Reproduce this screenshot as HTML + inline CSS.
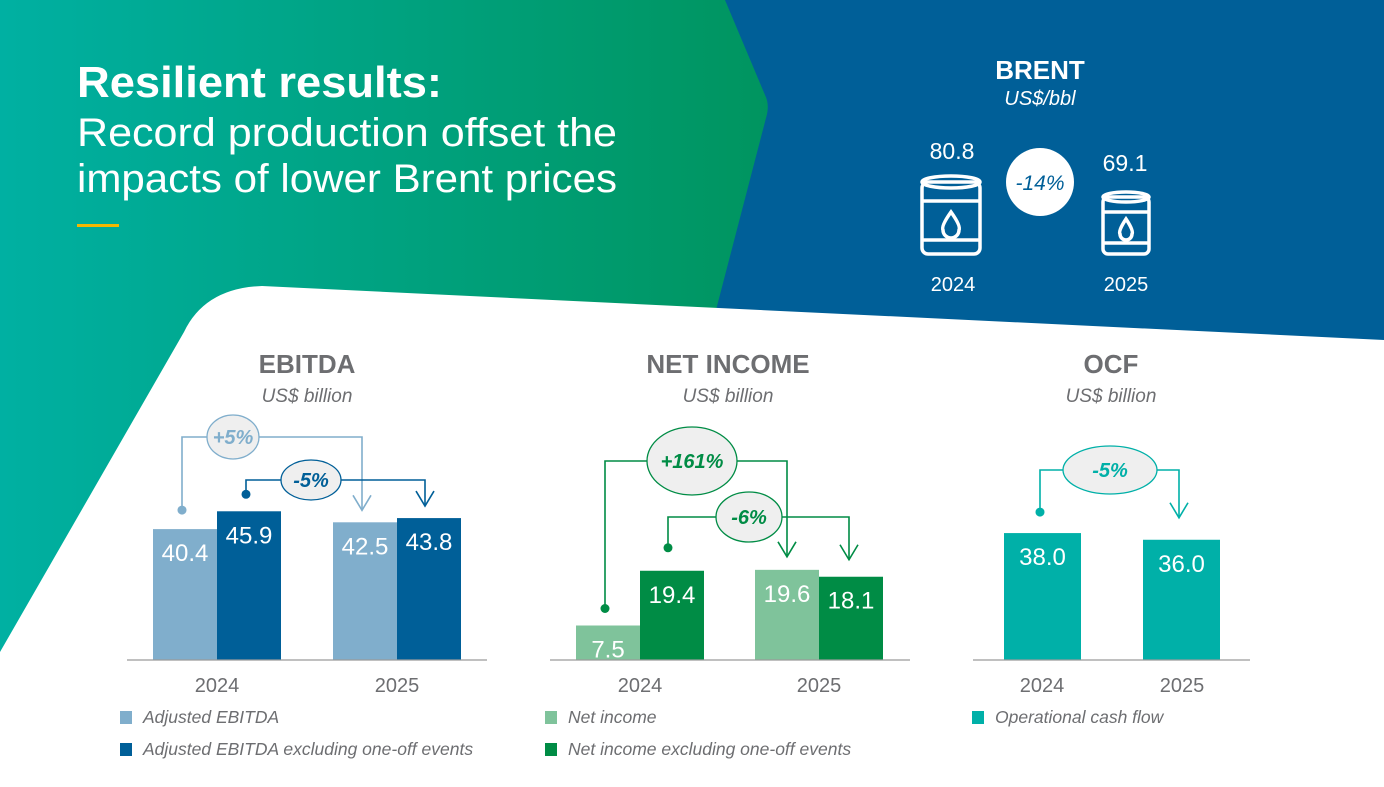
<!DOCTYPE html>
<html><head><meta charset="utf-8"><style>
html,body{margin:0;padding:0;width:1384px;height:787px;overflow:hidden;background:#fff}
svg{display:block;font-family:"Liberation Sans",sans-serif}
</style></head><body>
<svg id="c" width="1384" height="787" viewBox="0 0 1384 787">
<defs>
<linearGradient id="g" x1="0" x2="1" y1="0" y2="0">
<stop offset="0" stop-color="#00b0a2"/><stop offset="1" stop-color="#00945e"/>
</linearGradient>
</defs>
<rect x="0" y="0" width="780" height="787" fill="url(#g)"/>
<path d="M725,0 L1384,0 L1384,345 L716,310 L766,118 Q770,105 765,95 Z" fill="#005f98"/>
<path d="M262,286 L1384,340 L1384,787 L0,787 L0,652 L184,332 Q205,288 262,286 Z" fill="#fff"/>
<text x="77" y="97" font-size="44" font-weight="bold" fill="#fff" textLength="365" lengthAdjust="spacingAndGlyphs">Resilient results:</text>
<text x="77" y="146" font-size="40" fill="#fff" textLength="540" lengthAdjust="spacingAndGlyphs">Record production offset the</text>
<text x="77" y="192" font-size="40" fill="#fff" textLength="540" lengthAdjust="spacingAndGlyphs">impacts of lower Brent prices</text>
<rect x="77" y="224" width="42" height="3" fill="#f5b800"/>
<g>
<text x="1040" y="79" font-size="26" font-weight="bold" fill="#fff" text-anchor="middle">BRENT</text>
<text x="1040" y="105" font-size="20" font-style="italic" fill="#fff" text-anchor="middle">US$/bbl</text>
<text x="952" y="159" font-size="23" fill="#fff" text-anchor="middle">80.8</text>
<text x="1125" y="171" font-size="23" fill="#fff" text-anchor="middle">69.1</text>
<circle cx="1040" cy="182" r="34" fill="#fff"/>
<text x="1040" y="190" font-size="21" font-style="italic" fill="#005f98" text-anchor="middle">-14%</text>
<g fill="none" stroke="#fff" stroke-width="3.5">
<rect x="922" y="182" width="58" height="72" rx="6"/><ellipse cx="951" cy="182" rx="29" ry="6"/>
<line x1="921" y1="201" x2="981" y2="201"/><line x1="921" y1="240" x2="981" y2="240"/>
<path d="M951,212 Q941,226 943,230 A8,8 0 0 0 959,230 Q961,226 951,212Z"/>
</g>
<g fill="none" stroke="#fff" stroke-width="3.5">
<rect x="1103" y="197" width="46" height="57" rx="5"/><ellipse cx="1126" cy="197" rx="23" ry="5"/>
<line x1="1102" y1="212" x2="1150" y2="212"/><line x1="1102" y1="243" x2="1150" y2="243"/>
<path d="M1126,219 Q1118,231 1120,234 A6,6 0 0 0 1132,234 Q1134,231 1126,219Z"/>
</g>
<text x="953" y="291" font-size="20" fill="#fff" text-anchor="middle">2024</text>
<text x="1126" y="291" font-size="20" fill="#fff" text-anchor="middle">2025</text>
</g>
<g id="charts"></g>
</svg>
<script>
const years = ["2024","2025"];
const ebitdaAdj = [40.4, 42.5];
const ebitdaExcl = [45.9, 43.8];
const niValues = [7.5, 19.6];
const niExcl = [19.4, 18.1];
const ocfValues = [38.0, 36.0];
const ebitdaChanges = ["+5%","-5%"];
const niChanges = ["+161%","-6%"];
const ocfChanges = ["-5%"];

const NS="http://www.w3.org/2000/svg";
const root=document.getElementById('charts');
function mk(tag,attrs,parent,text){const e=document.createElementNS(NS,tag);for(const k in attrs)e.setAttribute(k,attrs[k]);if(text!==undefined)e.textContent=text;(parent||root).appendChild(e);return e;}
const BASE=660;
function bar(x,w,v,scale,color,name){
  const y=BASE-v*scale;
  const r=mk('rect',{x:x,y:y,width:w,height:v*scale,fill:color});
  
  
  const t=mk('text',{x:x+w/2,y:y+32,'font-size':24,fill:'#fff','text-anchor':'middle'},root,v.toFixed(1));
  
  
  return y;
}
function connector(x1,y1,x2,y2,ly,color,cx,rx,ry,label,name){
  const g=mk('g',{});
  
  
  mk('path',{d:`M${x1},${y1} V${ly} H${x2} V${y2}`,fill:'none',stroke:color,'stroke-width':1.6},g);
  mk('circle',{cx:x1,cy:y1,r:4.5,fill:color},g);
  mk('path',{d:`M${x2-9},${y2-15} L${x2},${y2} L${x2+9},${y2-15}`,fill:'none',stroke:color,'stroke-width':1.6},g);
  mk('ellipse',{cx:cx,cy:ly,rx:rx,ry:ry,fill:'#efefef',stroke:color,'stroke-width':1.3},g);
  mk('text',{x:cx,y:ly+7,'font-size':20,'font-weight':'bold','font-style':'italic',fill:color,'text-anchor':'middle'},g,label);
}
function header(cx,title,name){
  const a=mk('text',{x:cx,y:373,'font-size':26,'font-weight':'bold',fill:'#6d6e71','text-anchor':'middle'},root,title);
  
  
  const b=mk('text',{x:cx,y:402,'font-size':19,'font-style':'italic',fill:'#6d6e71','text-anchor':'middle'},root,'US$ billion');
  
  
}
function axis(x1,x2,xs,name){
  const l=mk('line',{x1:x1,x2:x2,y1:BASE,y2:BASE,stroke:'#9a9a9a','stroke-width':1.2});
  
  
  years.forEach((y,i)=>{
    const t=mk('text',{x:xs[i],y:692,'font-size':20,fill:'#6d6e71','text-anchor':'middle'},root,y);
    
    
  });
}
function legend(x,y,color,label,name){
  const r=mk('rect',{x:x,y:y-12,width:12,height:13,fill:color});
  
  
  const t=mk('text',{x:x+23,y:y,'font-size':17.5,'font-style':'italic',fill:'#6d6e71'},root,label);
  
  
}
// EBITDA
header(307,'EBITDA','ebitda');
const sE=3.24;
const e0=[153,333], eW=64;
const ya=[],yb=[];
years.forEach((y,i)=>{ya.push(bar(e0[i],eW,ebitdaAdj[i],sE,'#80aecc','ebitda-adjusted-bar-'+y));yb.push(bar(e0[i]+eW,eW,ebitdaExcl[i],sE,'#005f98','ebitda-excl-bar-'+y));});
connector(182,ya[0]-19,362,ya[1]-12,437,'#80aecc',233,26,22,ebitdaChanges[0],'ebitda-adjusted-change');
connector(246,yb[0]-17,425,yb[1]-12,480,'#005f98',311,30,20,ebitdaChanges[1],'ebitda-excl-change');
axis(127,487,[217,397],'ebitda');
legend(120,723,'#80aecc','Adjusted EBITDA','legend-adjusted-ebitda');
legend(120,755,'#005f98','Adjusted EBITDA excluding one-off events','legend-ebitda-excl');
// Net income
header(728,'NET INCOME','net-income');
const sN=4.6;
const n0=[576,755], nW=64;
const na=[],nb=[];
years.forEach((y,i)=>{na.push(bar(n0[i],nW,niValues[i],sN,'#7fc39b','net-income-bar-'+y));nb.push(bar(n0[i]+nW,nW,niExcl[i],sN,'#008c45','net-income-excl-bar-'+y));});
connector(605,na[0]-17,787,na[1]-13,461,'#008c45',692,45,34,niChanges[0],'net-income-change');
connector(668,nb[0]-23,849,nb[1]-17,517,'#008c45',749,33,25,niChanges[1],'net-income-excl-change');
axis(550,910,[640,819],'net-income');
legend(545,723,'#7fc39b','Net income','legend-net-income');
legend(545,755,'#008c45','Net income excluding one-off events','legend-net-income-excl');
// OCF
header(1111,'OCF','ocf');
const sO=3.34;
const o0=[1004,1143], oW=77;
const oy=[];
years.forEach((y,i)=>{oy.push(bar(o0[i],oW,ocfValues[i],sO,'#00b0a8','ocf-bar-'+y));});
connector(1040,oy[0]-21,1179,oy[1]-22,470,'#00b0a8',1110,47,24,ocfChanges[0],'ocf-change');
axis(973,1250,[1042,1182],'ocf');
legend(972,723,'#00b0a8','Operational cash flow','legend-ocf');
</script>
</body></html>
